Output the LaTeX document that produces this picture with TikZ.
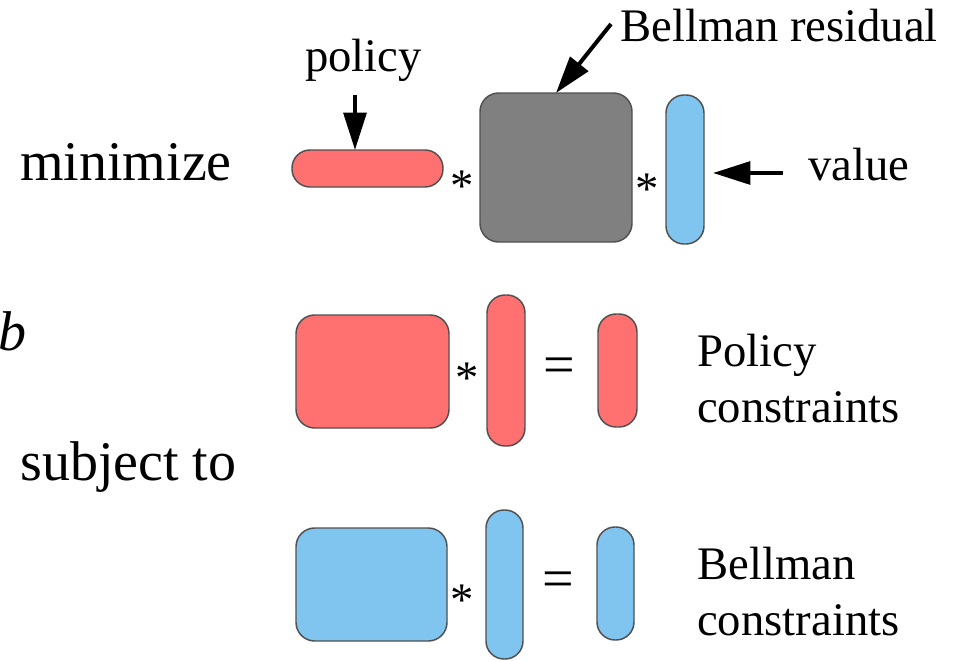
\documentclass[tikz,border=0pt]{standalone}
\usepackage{fontspec}
\newfontfamily\tnr{Liberation Serif}
\usetikzlibrary{fit,arrows.meta}
\definecolor{redfill}{HTML}{FF7070}
\definecolor{bluefill}{HTML}{80C4F0}
\definecolor{grayfill}{HTML}{808080}
\definecolor{edge}{HTML}{505050}
\begin{document}
\begin{tikzpicture}[x=0.75pt,y=-0.75pt,
  blk/.style={draw=edge,line width=1.1pt,inner sep=0pt,outer sep=0pt},
  mat/.style={blk,rounded corners=14pt},
  bar/.style={blk,rounded corners=13.5pt},
  redb/.style={fill=redfill},
  blueb/.style={fill=bluefill},
  grayb/.style={fill=grayfill},
  big/.style={font=\tnr\fontsize{42}{48}\selectfont,inner sep=0pt,anchor=base west},
  lab/.style={font=\tnr\fontsize{35}{40}\selectfont,inner sep=0pt,anchor=base west},
  op/.style={font=\tnr\fontsize{35}{40}\selectfont,inner sep=0pt},
  eq/.style={font=\tnr\fontsize{42}{48}\selectfont,inner sep=0pt},
  arr/.style={line width=3pt,-{Triangle[length=28pt,width=17pt]}}
]
\useasboundingbox (0,0) rectangle (956,660);
% top row
\node[bar,redb,fit={(292,150) (443,187)}] (polbar) {};
\node[mat,grayb,fit={(480,93) (632,242)}] (resid) {};
\node[bar,blueb,fit={(666,95) (704,244)}] (valbar) {};
\node[op] (ast1) at (462,186) {*};
\node[op] (ast2) at (647,189) {*};
\node[big] (minimize) at (20,180) {minimize};
\node[lab] (policy) at (305,72) {policy};
\node[lab] (bellres) at (620,42) {Bellman residual};
\node[lab] (value) at (808,180) {value};
\coordinate (pA) at (355,95);
\coordinate (bA) at (611,24);
\coordinate (bB) at (556,93);
\coordinate (vA) at (783,173);
\coordinate (vB) at (713,173);
\draw[arr] (pA) -- (pA |- polbar.north);
\draw[arr] (bA) -- (bB);
\draw[arr] (vA) -- (vB);
% b and subject to
\node[big,font=\tnr\fontsize{42}{48}\selectfont\itshape] (bvar) at (-2,350) {b};
\node[big] (subj) at (20,480) {subject to};
% policy constraints
\node[mat,redb,fit={(296,315) (449,428)}] (pmat) {};
\node[bar,redb,fit={(487,295) (525,446)}] (pvec) {};
\node[bar,redb,fit={(598,314) (637,427)}] (prhs) {};
\node[op] (ast3) at (467,378) {*};
\node[eq] (eq1) at (559,371) {=};
\node[lab] (pol1) at (697,366) {Policy};
\node[lab] (pol2) at (697,422) {constraints};
% Bellman constraints
\node[mat,blueb,fit={(296,528) (447,641)}] (bmat) {};
\node[bar,blueb,fit={(486,510) (523,659)}] (bvec) {};
\node[bar,blueb,fit={(597,527) (634,640)}] (brhs) {};
\node[op] (ast4) at (462,600) {*};
\node[eq] (eq2) at (558,585) {=};
\node[lab] (bel1) at (697,579) {Bellman};
\node[lab] (bel2) at (697,635) {constraints};
\end{tikzpicture}
\end{document}
